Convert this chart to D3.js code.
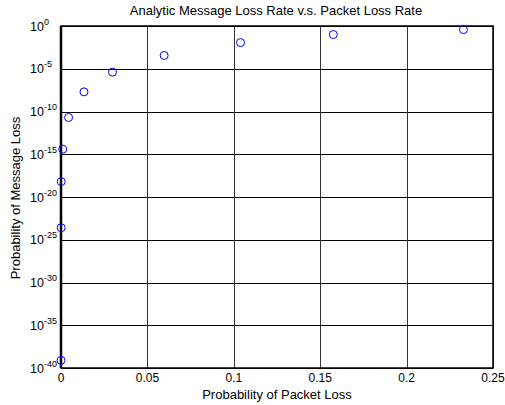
<!DOCTYPE html>
<html>
<head>
<meta charset="utf-8">
<script src="https://cdn.jsdelivr.net/npm/d3@7"></script>
<style>
  body { margin: 0; background: #fff; }
  text { font-family: "Liberation Sans", Arial, sans-serif; fill: #000; }
</style>
</head>
<body>
<div class="chart-container"></div>
<script>
// packet loss probability and log10 of message loss probability
const packetLoss = [0, 0.0001, 0.0001, 0.001, 0.0044, 0.0133, 0.0298, 0.0597, 0.1039, 0.1576, 0.2329];
const logMsgLoss = [-39.1, -23.6, -18.2, -14.4, -10.7, -7.7, -5.4, -3.45, -1.94, -1.0, -0.42];

const xTicks = [0, 0.05, 0.1, 0.15, 0.2, 0.25];
const xTickLabels = ["0", "0.05", "0.1", "0.15", "0.2", "0.25"];
const yTickExps = [0, -5, -10, -15, -20, -25, -30, -35, -40];

function draw() {
    const width = 505;
    const height = 405;
    const margin = {top: 26, right: 12, bottom: 37, left: 61};

    const x = d3.scaleLinear()
        .domain([0, 0.25])
        .range([margin.left, width - margin.right]);

    const y = d3.scaleLog()
        .domain([1e-40, 1])
        .range([height - margin.bottom, margin.top]);

    const svg = d3.select('.chart-container').append("svg")
        .attr("width", width)
        .attr("height", height)
        .attr("viewBox", [0, 0, width, height]);

    // grid
    svg.append("g")
        .selectAll("line")
        .data(yTickExps)
        .join("line")
        .attr("x1", x(0))
        .attr("x2", x(0.25))
        .attr("y1", d => Math.round(y(Math.pow(10, d))) + 0.5)
        .attr("y2", d => Math.round(y(Math.pow(10, d))) + 0.5)
        .attr("stroke", "#000")
        .attr("stroke-width", 1);

    svg.append("g")
        .selectAll("line")
        .data(xTicks)
        .join("line")
        .attr("x1", d => Math.round(x(d)) + 0.5)
        .attr("x2", d => Math.round(x(d)) + 0.5)
        .attr("y1", y(1))
        .attr("y2", y(1e-40))
        .attr("stroke", "#333")
        .attr("stroke-width", 1);

    // axes frame
    svg.append("rect")
        .attr("x", x(0))
        .attr("y", y(1))
        .attr("width", x(0.25) - x(0))
        .attr("height", y(1e-40) - y(1))
        .attr("fill", "none")
        .attr("stroke", "#000")
        .attr("stroke-width", 1.5);

    svg.append("line")
        .attr("x1", x(0)).attr("x2", x(0))
        .attr("y1", y(1)).attr("y2", y(1e-40))
        .attr("stroke", "#000")
        .attr("stroke-width", 2.5);

    // x tick labels
    svg.append("g")
        .selectAll("text")
        .data(xTicks)
        .join("text")
        .attr("x", d => x(d))
        .attr("y", 382)
        .attr("text-anchor", "middle")
        .attr("font-size", "12px")
        .text((d, i) => xTickLabels[i]);

    // y tick labels 10^n
    const yl = svg.append("g")
        .selectAll("text")
        .data(yTickExps)
        .join("text")
        .attr("x", 30)
        .attr("y", d => y(Math.pow(10, d)) + 4.5)
        .attr("font-size", "12.5px");
    yl.append("tspan").text("10");
    yl.append("tspan")
        .attr("dy", -6)
        .attr("font-size", "9px")
        .text(d => d);

    // points
    svg.append("g")
        .selectAll("circle")
        .data(packetLoss.map((p, i) => [p, Math.pow(10, logMsgLoss[i])]))
        .join("circle")
        .attr("cx", d => x(d[0]))
        .attr("cy", d => y(d[1]))
        .attr("r", 4)
        .attr("fill", "none")
        .attr("stroke", "#0000ff")
        .attr("stroke-width", 1);

    // title and axis labels
    svg.append("text")
        .attr("x", 276)
        .attr("y", 15)
        .attr("text-anchor", "middle")
        .attr("font-size", "13px")
        .text("Analytic Message Loss Rate v.s. Packet Loss Rate");

    svg.append("text")
        .attr("x", 277)
        .attr("y", 399)
        .attr("text-anchor", "middle")
        .attr("font-size", "13px")
        .text("Probability of Packet Loss");

    svg.append("text")
        .attr("transform", "translate(20, 198) rotate(-90)")
        .attr("text-anchor", "middle")
        .attr("font-size", "13px")
        .text("Probability of Message Loss");
}

draw();
</script>
</body>
</html>
